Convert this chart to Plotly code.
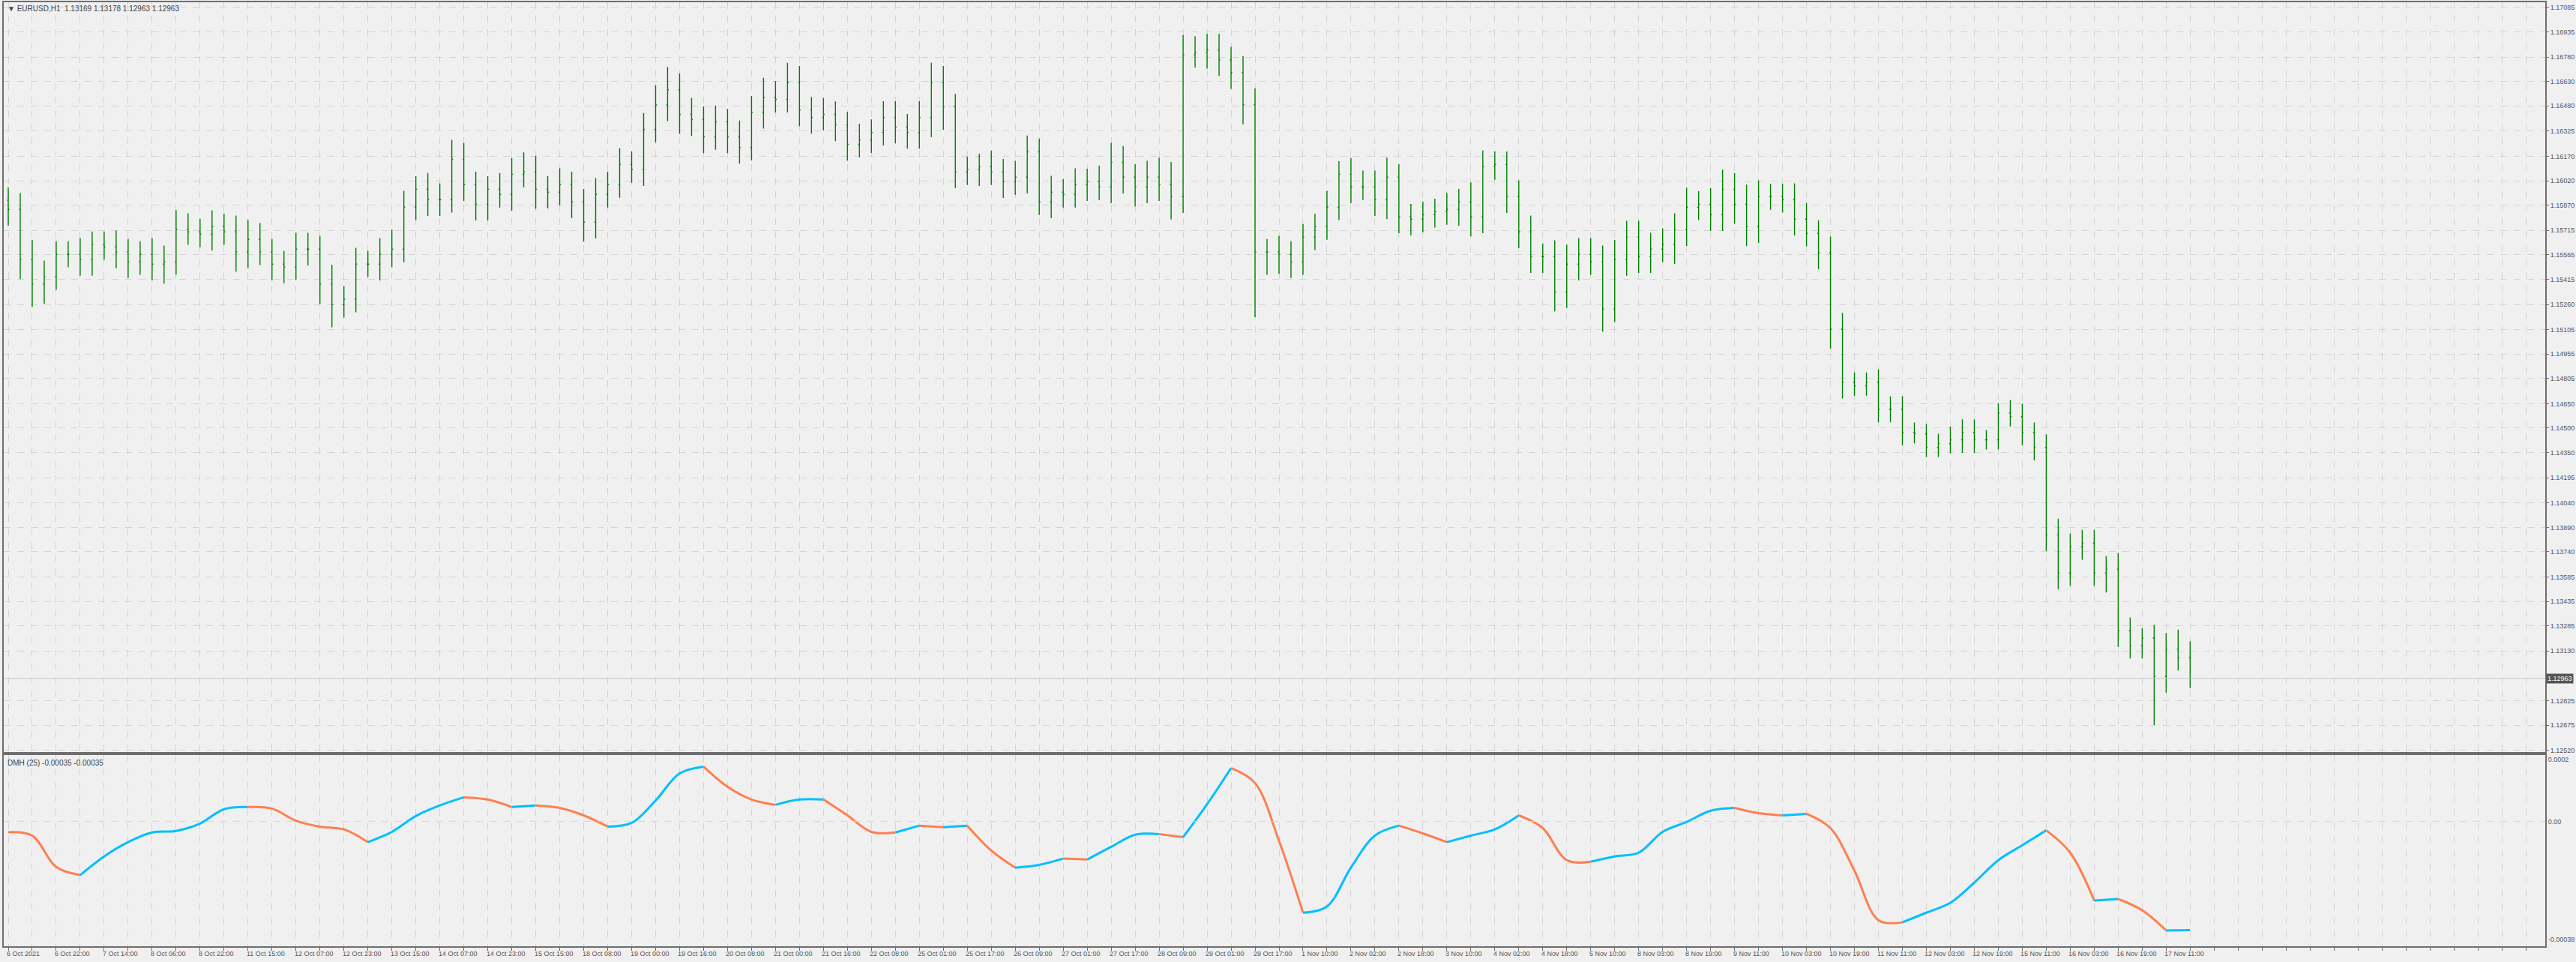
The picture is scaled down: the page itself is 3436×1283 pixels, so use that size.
import plotly.graph_objects as go

# EURUSD H1 price, sampled as 4-hour bars (close, wick above body, wick below body in pips)
closes = [
    1.15844, 1.15536, 1.15384, 1.15430, 1.15568, 1.15568, 1.15536, 1.15628, 1.15614, 1.15582,
    1.15522, 1.15568, 1.15508, 1.15522, 1.15720, 1.15706, 1.15692, 1.15738, 1.15706, 1.15582,
    1.15660, 1.15582, 1.15508, 1.15490, 1.15600, 1.15600, 1.15384, 1.15260, 1.15292, 1.15508,
    1.15508, 1.15568, 1.15600, 1.15858, 1.15968, 1.15904, 1.15904, 1.16152,
    1.15996, 1.15876, 1.15968, 1.15936, 1.16060, 1.16074, 1.15968, 1.15950, 1.15996, 1.15890,
    1.15766, 1.15936, 1.15996, 1.16120, 1.16088, 1.16336, 1.16487, 1.16579, 1.16428, 1.16396,
    1.16290, 1.16382, 1.16290, 1.16225, 1.16441, 1.16533, 1.16520, 1.16625, 1.16455, 1.16409,
    1.16428, 1.16363, 1.16244, 1.16271, 1.16317, 1.16409, 1.16350,
    1.16317, 1.16409, 1.16625, 1.16474, 1.16074, 1.16088, 1.16106, 1.16074, 1.16014, 1.16042,
    1.16198, 1.15890, 1.15950, 1.15936, 1.15996, 1.16014, 1.15982, 1.16133, 1.16042, 1.15982,
    1.16042, 1.15996, 1.15922, 1.16795, 1.16809, 1.16823, 1.16763, 1.16685, 1.16487, 1.15582,
    1.15582, 1.15568, 1.15522, 1.15674, 1.15738, 1.15858, 1.16060, 1.15982,
    1.15982, 1.15904, 1.16042, 1.15798, 1.15784, 1.15812, 1.15830, 1.15844, 1.15890, 1.15798,
    1.16106, 1.16120, 1.15922, 1.15706, 1.15554, 1.15554, 1.15338, 1.15508, 1.15568, 1.15522,
    1.15232, 1.15536, 1.15674, 1.15554, 1.15600, 1.15628, 1.15720, 1.15858, 1.15876, 1.15812,
    1.15968, 1.15876, 1.15738, 1.15922, 1.15922, 1.15904, 1.15784,
    1.15697, 1.15577, 1.15108, 1.14782, 1.14759, 1.14782, 1.14616, 1.14616, 1.14474, 1.14465,
    1.14382, 1.14405, 1.14428, 1.14474, 1.14428, 1.14428, 1.14593, 1.14570, 1.14474, 1.14382,
    1.13844, 1.13610, 1.13771, 1.13794, 1.13610, 1.13633, 1.13256, 1.13164, 1.13210, 1.12975,
    1.13141, 1.13090, 1.12963,
]
wick_hi = [
    8, 10, 12, 10, 8, 8, 10, 8, 8, 10, 8, 8, 10, 10, 12, 10, 8, 10, 8, 10, 12, 10, 8, 8, 10, 10, 8, 12, 8, 10, 8, 10, 12, 10, 8, 10, 10, 12,
    10, 8, 8, 10, 10, 12, 10, 8, 10, 8, 8, 10, 8, 10, 8, 10, 12, 14, 10, 10, 8, 10, 8, 10, 10, 12, 10, 12, 10, 8, 10, 8, 8, 10, 8, 10, 10,
    8, 10, 12, 10, 8, 8, 8, 10, 8, 10, 10, 8, 10, 8, 10, 8, 10, 12, 10, 8, 10, 12, 14, 12, 10, 10, 10, 8, 10, 10, 8, 10, 8, 8, 8, 10, 8, 10,
    10, 10, 12, 8, 8, 8, 8, 10, 8, 12, 10, 8, 8, 10, 10, 8, 10, 12, 10, 10, 10, 12, 10, 10, 10, 10, 10, 12, 8, 10, 12, 10, 12, 10, 8, 8, 10,
    10, 8, 10, 10, 6, 6, 8, 8, 8, 6, 6, 6, 8, 8, 8, 6, 6, 8, 8, 6, 8, 10, 8, 8, 8, 8, 10, 8, 6, 8, 10, 12, 10,
]
wick_lo = [
    10, 12, 14, 12, 8, 8, 10, 10, 8, 10, 10, 8, 10, 12, 8, 8, 8, 10, 8, 12, 10, 8, 10, 10, 8, 10, 12, 14, 8, 8, 8, 10, 8, 8, 8, 10, 10, 8,
    10, 10, 10, 8, 10, 8, 12, 10, 8, 10, 12, 10, 8, 8, 8, 10, 8, 10, 12, 10, 10, 8, 10, 10, 8, 10, 8, 8, 10, 10, 8, 10, 10, 8, 8, 8, 10,
    10, 10, 12, 14, 10, 8, 10, 8, 10, 8, 10, 8, 10, 8, 8, 10, 8, 10, 10, 12, 10, 10, 14, 10, 8, 10, 10, 10, 12, 40, 14, 12, 10, 8, 8, 8, 8, 10,
    8, 10, 12, 10, 10, 8, 8, 8, 10, 12, 10, 8, 10, 10, 10, 10, 12, 10, 10, 8, 14, 8, 10, 10, 10, 8, 12, 10, 8, 10, 10, 12, 12, 10, 8, 8, 10,
    8, 10, 12, 10, 6, 6, 8, 8, 8, 6, 6, 6, 6, 8, 8, 6, 6, 6, 8, 8, 10, 10, 8, 8, 8, 12, 10, 8, 8, 30, 10, 8, 6,
]
first_open = 1.15900

# DMH(25) sampled every 8 hours, in units of 1e-5
dmh = [
    -3.5, -4.6, -14.7, -17.3, -11.3, -6.7, -3.6, -3.1, -0.7, 3.9, 4.6, 4.1, 0.2, -1.7, -2.6, -6.7,
    -3.4, 1.7, 5.1, 7.7, 7.0, 4.6, 5.1, 4.3, 1.9, -1.7, -0.5, 6.7, 15.4, 17.6, 11.1, 7.0, 5.3, 7.0,
    7.0, 1.9, -3.4, -3.6, -1.4, -1.9, -1.4, -9.4, -14.9, -14.0, -12.0, -12.3, -8.2, -4.3, -4.1, -5.1,
    5.5, 17.1, 12.3, -6.3, -29.4, -27.4, -14.9, -4.6, -1.4, -3.9, -6.7, -4.6, -2.6, 1.9, -2.2, -12.5,
    -13.0, -11.3, -10.1, -3.4, -0.2, 3.4, 4.3, 2.6, 1.9, 2.4, -2.2, -15.9, -31.8, -32.5, -29.4, -26.2,
    -19.7, -12.5, -7.7, -2.9, -10.1, -25.5, -25.0, -28.6, -35.1, -35.0,
]

price_ticks = [1.17085, 1.16935, 1.16780, 1.16630, 1.16480, 1.16325, 1.16170, 1.16020, 1.15870,
               1.15715, 1.15565, 1.15415, 1.15260, 1.15105, 1.14955, 1.14805, 1.14650, 1.14500,
               1.14350, 1.14195, 1.14040, 1.13890, 1.13740, 1.13585, 1.13435, 1.13285, 1.13130,
               1.12825, 1.12675, 1.12520]
dmh_ticks = [0.0002, 0.0, -0.00038]
dmh_tick_text = ["0.0002", "0.00", "-0.00038"]

date_labels = [
    "6 Oct 2021", "6 Oct 22:00", "7 Oct 14:00", "8 Oct 06:00", "8 Oct 22:00", "11 Oct 15:00",
    "12 Oct 07:00", "12 Oct 23:00", "13 Oct 15:00", "14 Oct 07:00", "14 Oct 23:00", "15 Oct 15:00",
    "18 Oct 08:00", "19 Oct 00:00", "19 Oct 16:00", "20 Oct 08:00", "21 Oct 00:00", "21 Oct 16:00",
    "22 Oct 08:00", "25 Oct 01:00", "25 Oct 17:00", "26 Oct 09:00", "27 Oct 01:00", "27 Oct 17:00",
    "28 Oct 09:00", "29 Oct 01:00", "29 Oct 17:00", "1 Nov 10:00", "2 Nov 02:00", "2 Nov 18:00",
    "3 Nov 10:00", "4 Nov 02:00", "4 Nov 18:00", "5 Nov 10:00", "8 Nov 03:00", "8 Nov 19:00",
    "9 Nov 11:00", "10 Nov 03:00", "10 Nov 19:00", "11 Nov 11:00", "12 Nov 03:00", "12 Nov 19:00",
    "15 Nov 11:00", "16 Nov 03:00", "16 Nov 19:00", "17 Nov 11:00",
]

W, H = 3436, 1283
PIP = 0.0001
GRID = "#d4d4d4"
FRAME = "#6e6e6e"
TXT = "#555555"
FONT = "Liberation Sans"

opens = [first_open] + closes[:-1]
highs = [max(o, c) + h * PIP for o, c, h in zip(opens, closes, wick_hi)]
lows = [min(o, c) - l * PIP for o, c, l in zip(opens, closes, wick_lo)]
bar_x = [4 * i for i in range(len(closes))]

fig = go.Figure()
fig.add_trace(go.Ohlc(
    x=bar_x, open=opens, high=highs, low=lows, close=closes,
    increasing=dict(line=dict(color="#008000", width=1.4)),
    decreasing=dict(line=dict(color="#008000", width=1.4)),
    tickwidth=0.1, hoverinfo="skip", xaxis="x", yaxis="y",
))

# DMH line, blue while rising, orange while falling
dmh_x = [8 * i for i in range(len(dmh))]
dmh_v = [v * 1e-5 for v in dmh]
seg_start = 0
for i in range(1, len(dmh_v)):
    rising = dmh_v[i] >= dmh_v[i - 1]
    last = i == len(dmh_v) - 1
    nxt_rising = None if last else dmh_v[i + 1] >= dmh_v[i]
    if last or nxt_rising != rising:
        fig.add_trace(go.Scatter(
            x=dmh_x[seg_start:i + 1], y=dmh_v[seg_start:i + 1], mode="lines",
            line=dict(color="#00bfff" if rising else "#ff7f50", width=3, shape="spline"),
            hoverinfo="skip", xaxis="x2", yaxis="y2", showlegend=False,
        ))
        seg_start = i

x0 = 5 / W
x1 = 3395 / W
main_dom = [1 - 1005 / H, 1 - 3 / H]
ind_dom = [1 - 1265 / H, 1 - 1009 / H]
xr = [-1.5, 846.5]
grid_x = list(range(0, 848, 8))

common_x = dict(range=xr, tickvals=grid_x, showgrid=True, gridcolor=GRID, griddash="dash",
                gridwidth=1, zeroline=False, showline=True, linecolor=FRAME, linewidth=2,
                mirror=True, showticklabels=False, domain=[x0, x1], rangeslider=dict(visible=False))

fig.update_layout(
    width=W, height=H,
    margin=dict(l=0, r=0, t=0, b=0),
    paper_bgcolor="#f0f0f0", plot_bgcolor="#f0f0f0",
    showlegend=False,
    font=dict(family=FONT, size=9, color=TXT),
    xaxis=dict(**common_x, anchor="y"),
    xaxis2=dict(**common_x, anchor="y2", matches="x", ticks="outside", ticklen=4, tickcolor=FRAME),
    yaxis=dict(domain=main_dom, range=[1.12511, 1.17117], side="right", tickvals=price_ticks,
               tickformat=".5f", showgrid=True, gridcolor=GRID, griddash="dash", zeroline=False,
               showline=True, linecolor=FRAME, linewidth=2, mirror=True, ticks="outside",
               ticklen=3, tickcolor=FRAME, tickfont=dict(size=9, color=TXT), anchor="x"),
    yaxis2=dict(domain=ind_dom, range=[-0.000402, 0.000214], side="right", tickvals=dmh_ticks,
                ticktext=dmh_tick_text, showgrid=False, zeroline=False, showline=True,
                linecolor=FRAME, linewidth=2, mirror=True, ticks="",
                tickfont=dict(size=9, color=TXT), anchor="x2"),
)

# zero level of DMH and last-price line
fig.add_shape(type="line", xref="x2", yref="y2", x0=xr[0], x1=xr[1], y0=0, y1=0,
              line=dict(color=GRID, width=1, dash="dash"))
fig.add_shape(type="line", xref="x", yref="y", x0=xr[0], x1=xr[1], y0=closes[-1], y1=closes[-1],
              line=dict(color="#c8c8c8", width=1))

ann = []
ann.append(dict(text="▼ EURUSD,H1  1.13169 1.13178 1.12963 1.12963", xref="paper", yref="paper",
                x=8 / W, y=1 - 4 / H, xanchor="left", yanchor="top", showarrow=False,
                font=dict(size=10, color="#444444")))
ann.append(dict(text="DMH (25) -0.00035 -0.00035", xref="paper", yref="paper",
                x=8 / W, y=1 - 1012 / H, xanchor="left", yanchor="top", showarrow=False,
                font=dict(size=10, color="#444444")))
ann.append(dict(text="1.12963", xref="paper", yref="y", x=3396 / W, y=closes[-1],
                xanchor="left", yanchor="middle", showarrow=False, bgcolor="#555555",
                font=dict(size=9, color="#ffffff"), borderpad=1))
for i, lab in enumerate(date_labels):
    ann.append(dict(text=lab, xref="x2", yref="paper", x=16 * i - 1, y=1 - 1268 / H,
                    xanchor="left", yanchor="top", showarrow=False,
                    font=dict(size=9, color=TXT)))
fig.update_layout(annotations=ann)

# drop the default page margin so the full-size figure fits the window without scrollbars
page_fix = ("document.body.style.margin='0';document.body.style.overflow='hidden';"
            "document.body.style.background='#f0f0f0';")
fig.write_html("out.html", post_script=page_fix, config={"displayModeBar": False})
